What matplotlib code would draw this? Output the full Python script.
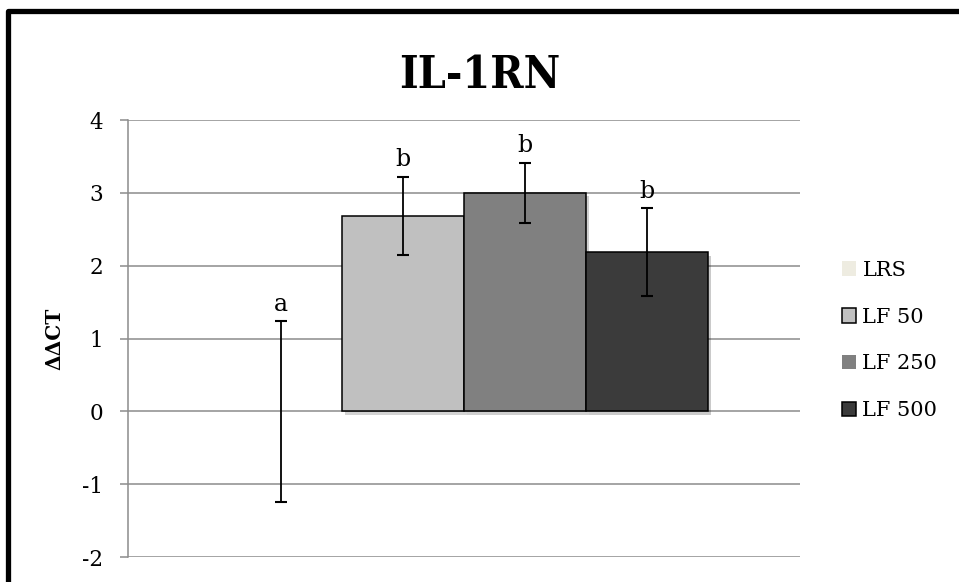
import matplotlib
matplotlib.use("Agg")
import matplotlib.pyplot as plt
import matplotlib.patheffects as pe
from matplotlib.patches import Patch
from matplotlib.lines import Line2D

# ---- data ----
title = "IL-1RN"
ylabel = "ΔΔCT"
series = ["LRS", "LF 50", "LF 250", "LF 500"]
means = [0.0, 2.68, 3.0, 2.185]
errors = [1.24, 0.54, 0.415, 0.605]
letters = ["a", "b", "b", "b"]
yticks = [-2, -1, 0, 1, 2, 3, 4]

colors = ["#EEECE1", "#C0C0C0", "#808080", "#3B3B3B"]
edges = ["none", "black", "black", "black"]
legend_edges = ["none", "black", "none", "black"]

plt.rcParams["font.family"] = ["DejaVu Serif"]

fig = plt.figure(figsize=(9.59, 5.82), dpi=100)
ax = fig.add_axes([128 / 959, 1 - 557 / 582, 672 / 959, 437 / 582])

w = 122 / 672
n = len(series)
for i, (s, m, e) in enumerate(zip(series, means, errors)):
    x = (i - (n - 1) / 2) * w
    bar = ax.bar(x, m, width=w, color=colors[i],
                 edgecolor=edges[i], linewidth=1.1, zorder=3)
    if edges[i] != "none":
        for p in bar.patches:
            p.set_path_effects([pe.SimplePatchShadow(offset=(2.5, -2.5), alpha=0.22),
                                pe.Normal()])
    ax.errorbar(x, m, yerr=e, fmt="none", ecolor="black", elinewidth=1.3,
                capsize=4.5, capthick=1.5, zorder=4)
    ax.annotate(letters[i], (x, m + e), xytext=(0, 7.5), textcoords="offset points",
                ha="center", va="baseline", fontsize=17)

ax.set_xlim(-0.5, 0.5)
ax.set_ylim(min(yticks), max(yticks))
ax.set_yticks(yticks)
ax.set_yticklabels([str(t) for t in yticks], fontsize=15.5)
ax.set_xticks([])
ax.yaxis.grid(True, color="#8C8C8C", linewidth=1.1, zorder=0)
ax.set_axisbelow(True)
for side in ["top", "right", "bottom"]:
    ax.spines[side].set_visible(False)
ax.spines["left"].set_color("#8C8C8C")
ax.spines["left"].set_linewidth(1.1)
ax.tick_params(axis="y", direction="out", length=6, width=1.1, color="#8C8C8C", pad=12)

ax.set_ylabel(ylabel, fontsize=14.5, fontweight="bold")
ax.yaxis.set_label_coords(-0.095, 0.5)

fig.text(0.5, 1 - 88 / 582, title, ha="center", va="baseline",
         fontsize=32, fontweight="bold", fontstretch="condensed")

handles = [Patch(facecolor=c, edgecolor=ec, linewidth=1.1)
           for c, ec in zip(colors, legend_edges)]
fig.legend(handles, series, loc="center left", bbox_to_anchor=(842 / 959, 1 - 340.5 / 582),
           frameon=False, fontsize=15, handlelength=0.68, handleheight=0.68,
           handletextpad=0.3, labelspacing=1.33, borderpad=0, borderaxespad=0)

# outer chart border (top and left visible)
x0 = 7.5 / 959
yt = 1 - 10.5 / 582
fig.add_artist(Line2D([x0, x0, 1.02], [-0.02, yt, yt], transform=fig.transFigure,
                      color="black", linewidth=3.8, solid_joinstyle="round"))

fig.savefig("out.png", dpi=100)
